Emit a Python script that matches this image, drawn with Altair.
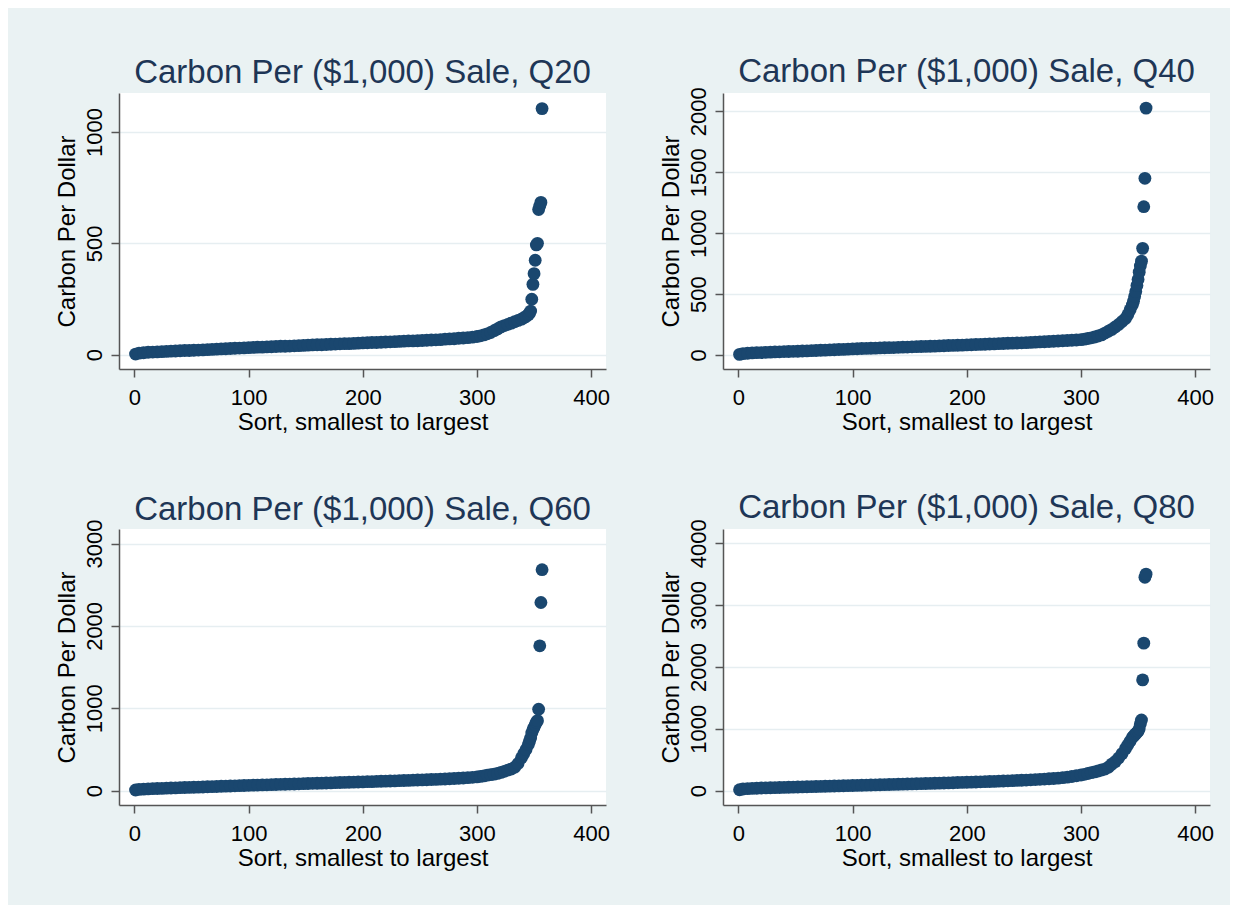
import altair as alt
import pandas as pd

# Sort rank (x) shared by the four panels
rank = [1, 4, 8, 12, 16, 20, 24, 28, 32, 36, 40, 44, 48, 52, 56, 60, 64, 68, 72, 76,
        80, 84, 88, 92, 96, 100, 104, 108, 112, 116, 120, 124, 128, 132, 136, 140, 144,
        148, 152, 156, 160, 164, 168, 172, 176, 180, 184, 188, 192, 196, 200, 204, 208,
        212, 216, 220, 224, 228, 232, 236, 240, 244, 248, 252, 256, 260, 264, 268, 272,
        276, 280, 284, 288, 292, 296, 300, 303, 306, 309, 312, 315, 318, 321, 324, 327,
        330, 333, 336, 339, 341, 343, 345, 346, 347, 348, 349, 350, 351, 352, 353, 354,
        355, 356, 357]

q20 = [3, 7, 9, 11, 12, 13, 14, 15, 16, 17, 18, 19, 19, 20, 21, 22, 23, 24, 25, 26,
       27, 28, 29, 30, 31, 32, 33, 34, 34, 35, 36, 37, 38, 38, 39, 40, 41, 42, 43, 44,
       45, 45, 46, 47, 48, 49, 50, 50, 51, 52, 53, 54, 55, 55, 56, 57, 58, 59, 60, 61,
       62, 62, 63, 64, 65, 66, 67, 68, 70, 71, 72, 74, 75, 77, 79, 82,
       85, 89, 94, 100, 108, 116, 125, 131, 136, 142, 148, 154, 160,
       166, 172, 180,
       186, 196, 249, 316, 364, 424, 493, 500, 652, 668, 684, 1105]

q40 = [5, 11, 14, 17, 19, 20, 22, 23, 25, 26, 28, 29, 30, 31, 33, 34, 36, 37, 39, 40,
       42, 43, 45, 46, 48, 50, 51, 53, 54, 55, 56, 58, 59, 60, 61, 63, 64, 65, 67, 68,
       70, 71, 72, 73, 75, 76, 78, 79, 80, 81, 83, 84, 86, 87, 88, 90, 91, 93, 94, 96,
       97, 98, 100, 101, 103, 105, 107, 109, 111, 113, 115, 117, 119, 121, 123, 126,
       130, 135, 141, 148, 156, 165, 180, 195, 210, 230, 250, 275, 300,
       330, 370, 410,
       440, 480, 520, 570, 620, 680, 730, 770, 875, 1217, 1450, 2026]

q60 = [8, 15, 19, 22, 24, 26, 28, 30, 32, 34, 36, 38, 39, 41, 43, 45, 47, 49, 51, 53,
       55, 57, 59, 61, 63, 65, 67, 68, 70, 71, 73, 75, 77, 78, 80, 81, 83, 85, 87, 89,
       90, 92, 93, 95, 97, 99, 100, 102, 104, 105, 107, 109, 110, 112, 114, 116, 117,
       119, 121, 123, 125, 127, 129, 131, 133, 135, 137, 140, 142, 145, 148, 151, 154,
       158, 162, 167,
       173, 180, 188, 195, 200, 210, 222, 235, 250, 262, 285, 330, 400,
       450, 500, 560,
       600, 640, 700, 740, 770, 800, 830, 850, 989, 1758, 2284, 2682]

q80 = [15, 28, 33, 37, 40, 43, 45, 48, 50, 52, 54, 56, 58, 60, 62, 64, 66, 68, 70, 72,
       74, 76, 78, 80, 82, 84, 86, 88, 90, 92, 94, 96, 98, 100, 102, 104, 106, 108, 110,
       112, 114, 116, 118, 120, 123, 125, 127, 129, 132, 134, 137, 139, 141, 144, 146,
       149, 151, 154, 157, 160, 163, 166, 169, 172, 176, 180, 184, 188, 193, 198, 204,
       212, 220, 230, 241, 254,
       265, 278, 292, 305, 318, 335, 350, 380, 430, 470, 530, 600, 680,
       740, 800, 860,
       880, 900, 920, 940, 960, 1000, 1080, 1144, 1791, 2385, 3450, 3500]

titles = ["Carbon Per ($1,000) Sale, Q20", "Carbon Per ($1,000) Sale, Q40",
          "Carbon Per ($1,000) Sale, Q60", "Carbon Per ($1,000) Sale, Q80"]
x_ticks = [0, 100, 200, 300, 400]
y_ticks = [[0, 500, 1000],
           [0, 500, 1000, 1500, 2000],
           [0, 1000, 2000, 3000],
           [0, 1000, 2000, 3000, 4000]]
y_domains = [[-64, 1175], [-115, 2150], [-174, 3176], [-231, 4230]]
# title offsets compensate for the top tick label reaching above each plot
title_offsets = [-23, -28.5, -33.5, -32.5]

NAVY = "#1a476f"
BG = "#eaf2f3"
FONT = "Liberation Sans"
W, H = 487, 276


def panel(vals, title, ydom, yt, toff):
    df = pd.DataFrame({"rank": rank, "value": vals})
    return alt.Chart(df, title=alt.TitleParams(
        text=title, fontSize=33, font=FONT, fontWeight="normal", color="#1e3656",
        anchor="middle", frame="group", offset=toff, baseline="alphabetic")
    ).mark_circle(size=165, opacity=1, color=NAVY).encode(
        x=alt.X("rank:Q",
                scale=alt.Scale(domain=[-13.5, 413], nice=False, zero=False),
                axis=alt.Axis(values=x_ticks, title="Sort, smallest to largest",
                              grid=False, labelPadding=10, labelBaseline="top",
                              labelAlign="center", labelFlush=False, labelOverlap=False,
                              titleX=W / 2, titleY=60, titleAlign="center",
                              titleBaseline="alphabetic")),
        y=alt.Y("value:Q",
                scale=alt.Scale(domain=ydom, nice=False, zero=False),
                axis=alt.Axis(values=yt, title="Carbon Per Dollar", grid=True, format="d",
                              labelAngle=270, labelAlign="center",
                              labelBaseline="alphabetic", labelPadding=10,
                              labelFlush=False, labelOverlap=False,
                              titleAngle=270, titleX=-45, titleY=H / 2,
                              titleAlign="center", titleBaseline="alphabetic")),
    ).properties(width=W, height=H)


charts = [panel(v, t, d, yt, o) for v, t, d, yt, o in
          zip([q20, q40, q60, q80], titles, y_domains, y_ticks, title_offsets)]

chart = alt.concat(
    *charts, columns=2, bounds="flush",
    spacing=alt.RowColnumber(row=160, column=117),
).properties(
    background=BG,
    padding={"left": 46, "top": 48, "right": 16, "bottom": 35},
).configure_view(fill="white", strokeWidth=0).configure_axis(
    labelFont=FONT, titleFont=FONT, labelFontSize=22, titleFontSize=24,
    titleFontWeight="normal", labelColor="#000000", titleColor="#000000",
    domainColor="#555555", domainWidth=1.5, tickColor="#555555", tickWidth=1.5,
    tickSize=8, gridColor="#e6eef1", gridWidth=1.5,
)

chart.save("out.html", embed_options={"renderer": "svg", "actions": False})
